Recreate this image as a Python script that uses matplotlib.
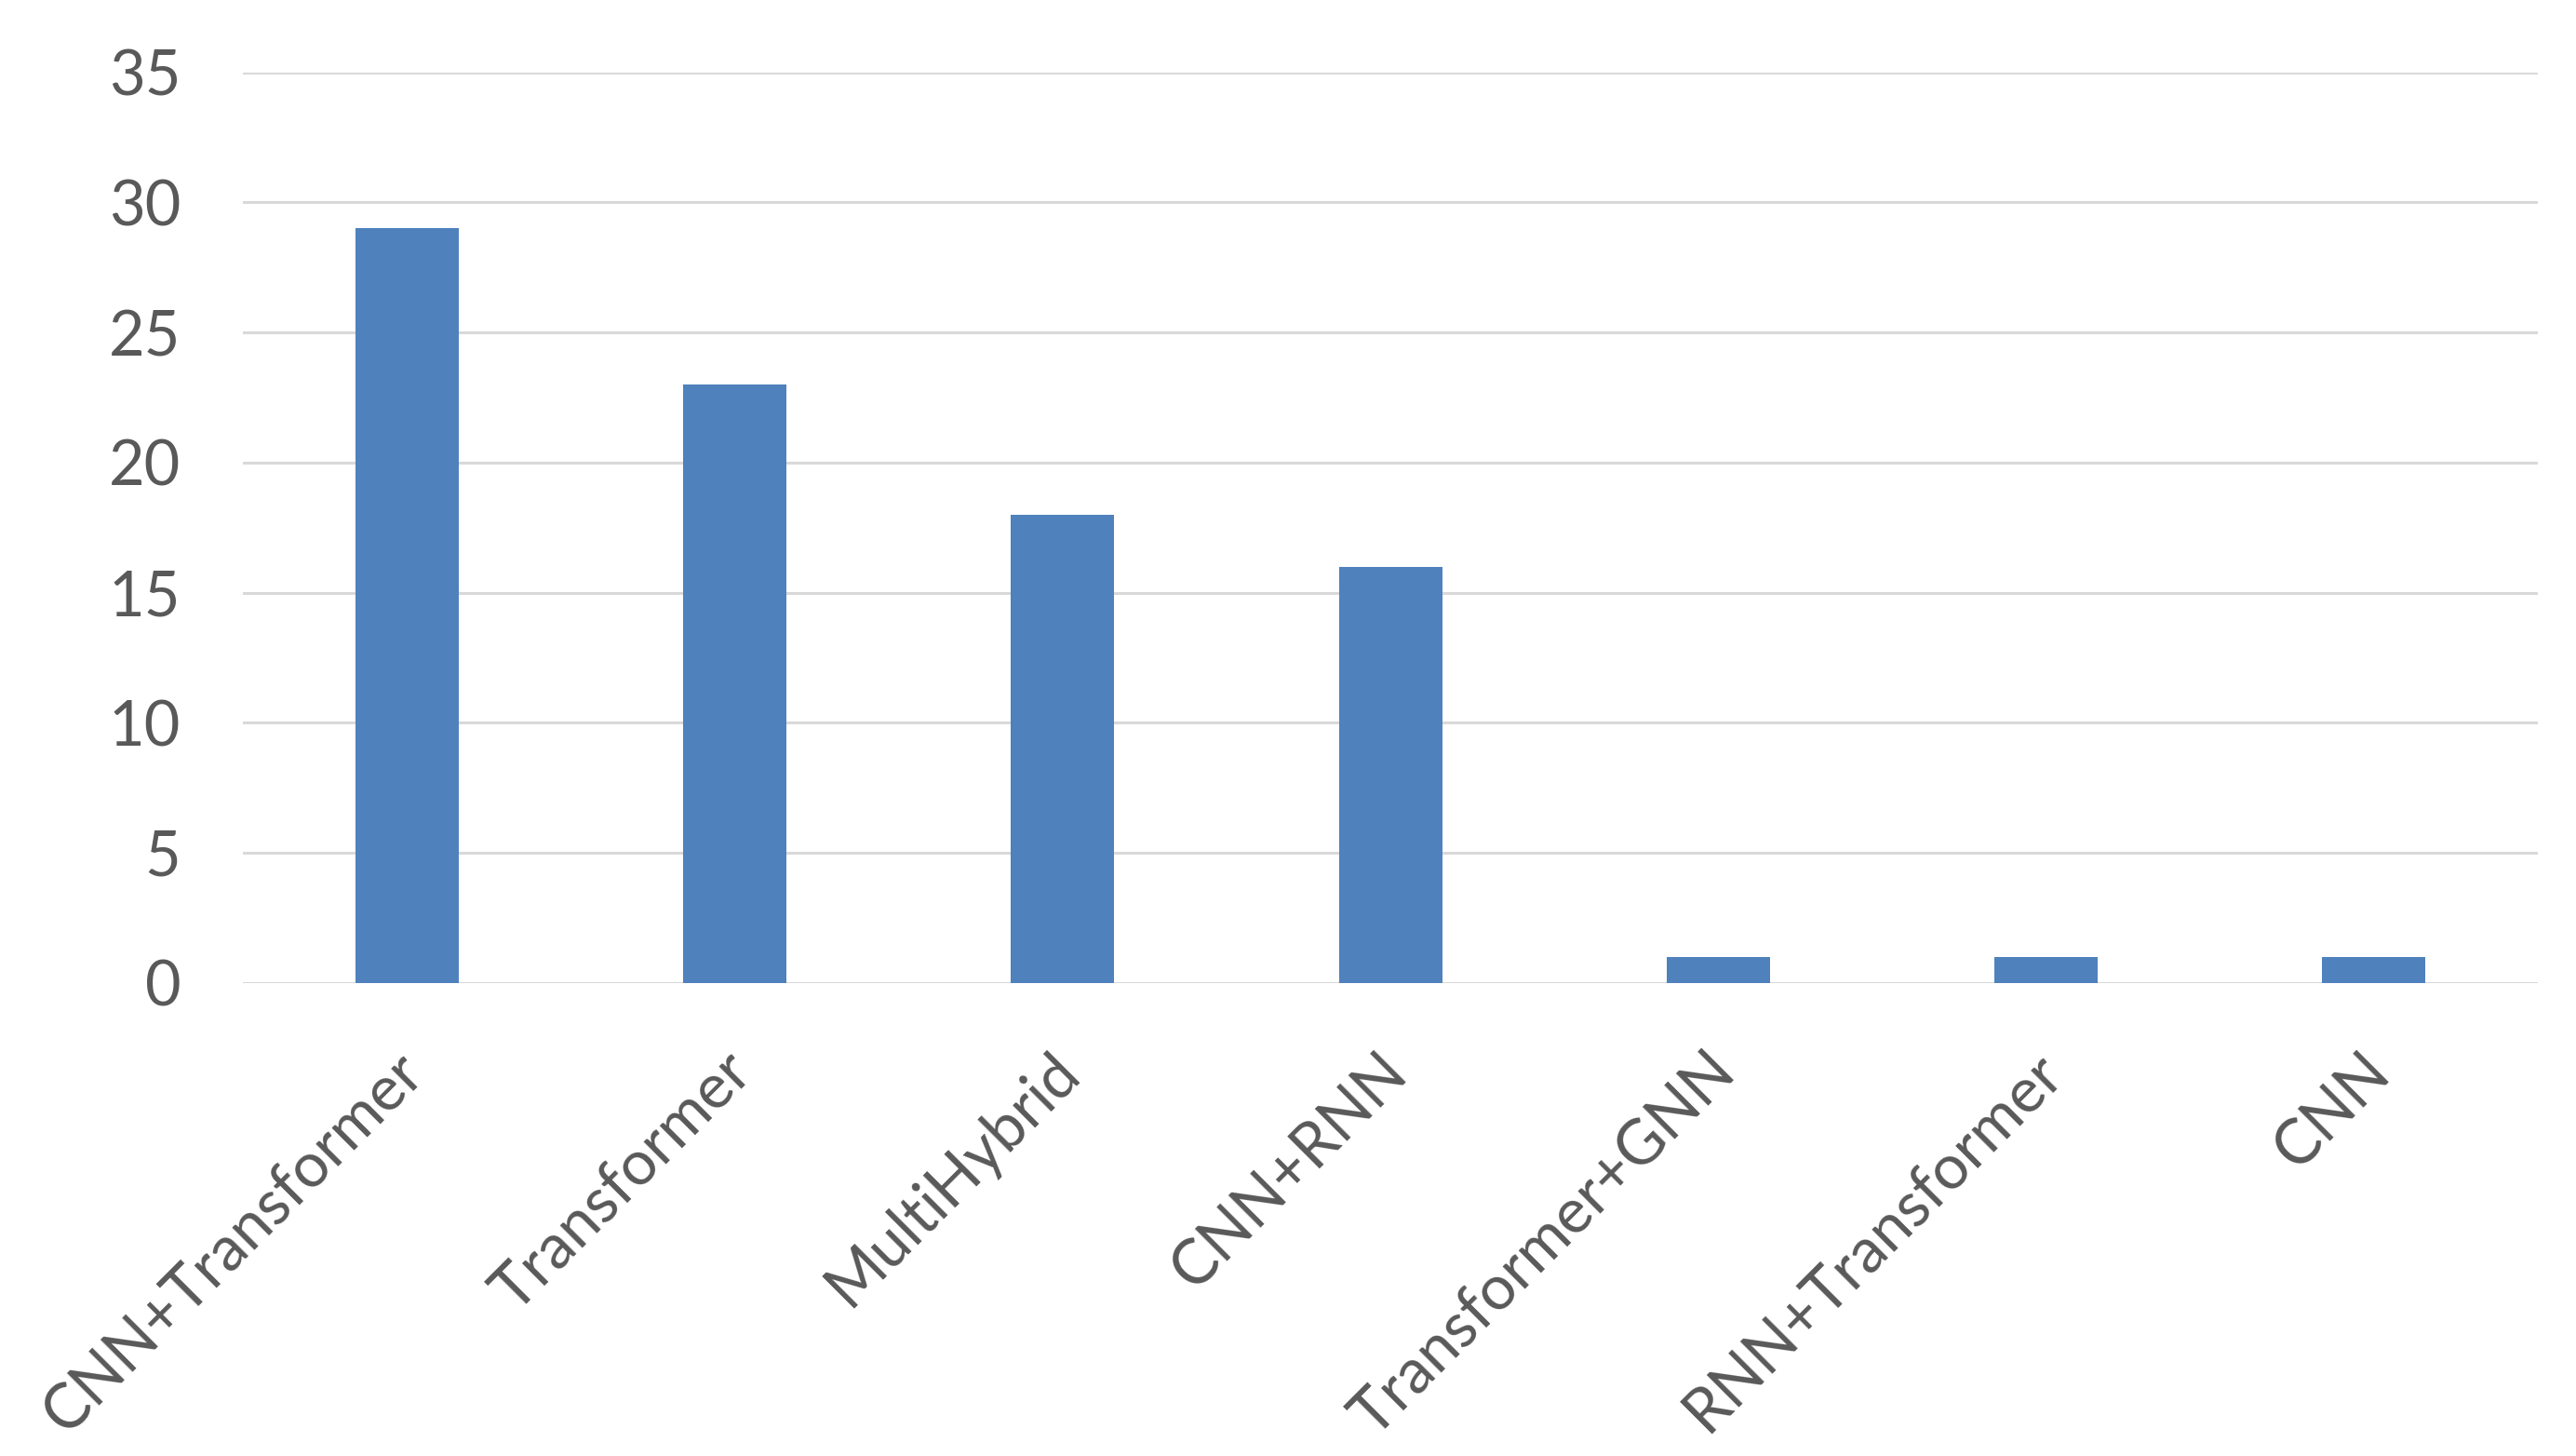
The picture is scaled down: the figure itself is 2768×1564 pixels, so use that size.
import numpy as np
import matplotlib.pyplot as plt
from matplotlib.transforms import ScaledTranslation

# 數據
categories = ["CNN+Transformer", "Transformer", "MultiHybrid", "CNN+RNN",
              "Transformer+GNN", "RNN+Transformer", "CNN"]
counts = [29, 23, 18, 16, 1, 1, 1]
y_ticks = [0, 5, 10, 15, 20, 25, 30, 35]

plt.rcParams['font.family'] = ['Lato', 'DejaVu Sans']

fig = plt.figure(figsize=(27.68, 15.64), dpi=100)
ax = fig.add_axes([0.0943, 0.325, 0.8909, 0.6253])

x = np.arange(len(categories))
ax.bar(x, counts, width=0.315, color="#4f81bd", zorder=3)

ax.set_xlim(-0.5, len(categories) - 0.5)
ax.set_ylim(0, 35)
ax.set_yticks(y_ticks)
ax.yaxis.grid(True, color="#d9d9d9", linewidth=2.2, zorder=0)
ax.set_axisbelow(True)
for s in ax.spines.values():
    s.set_visible(False)

ax.tick_params(axis='both', length=0, labelsize=48, colors="#595959")
ax.tick_params(axis='y', pad=48)
ax.set_xticks(x)
ax.set_xticklabels(categories, rotation=45, ha='right', rotation_mode='anchor')
ax.tick_params(axis='x', pad=46)
# 標籤稍微往左移
offset = ScaledTranslation(-0.14, 0, fig.dpi_scale_trans)
for lab in ax.get_xticklabels():
    lab.set_transform(lab.get_transform() + offset)

fig.savefig("out.png", dpi=100)
